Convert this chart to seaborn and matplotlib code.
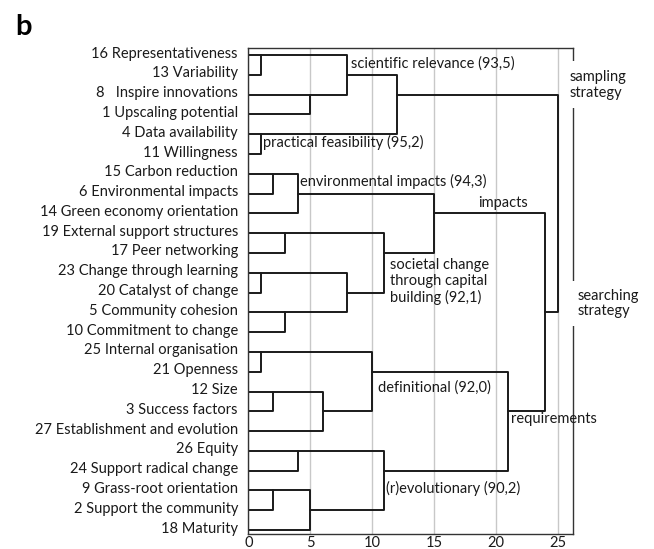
import numpy as np
import pandas as pd
import seaborn as sns
import matplotlib
matplotlib.use("Agg")
import matplotlib.pyplot as plt
from matplotlib.transforms import ScaledTranslation

# ---------------- data ----------------
leaf_labels = [
    "16 Representativeness", "13 Variability", "8   Inspire innovations",
    "1 Upscaling potential", "4 Data availability", "11 Willingness",
    "15 Carbon reduction", "6 Environmental impacts", "14 Green economy orientation",
    "19 External support structures", "17 Peer networking", "23 Change through learning",
    "20 Catalyst of change", "5 Community cohesion", "10 Commitment to change",
    "25 Internal organisation", "21 Openness", "12 Size", "3 Success factors",
    "27 Establishment and evolution", "26 Equity", "24 Support radical change",
    "9 Grass-root orientation", "2 Support the community", "18 Maturity",
]
# merges: cluster ids 0..24 are leaves, 25.. are merges in order
merge_left = [0, 2, 25, 4, 27, 6, 30, 9, 11, 13, 33, 32, 31,
              15, 17, 39, 38, 20, 22, 43, 42, 41, 37, 29]
merge_right = [1, 3, 26, 5, 28, 7, 8, 10, 12, 14, 34, 35, 36,
               16, 18, 19, 40, 21, 23, 24, 44, 45, 46, 47]
merge_height = [1, 5, 8, 1, 12, 2, 4, 3, 1, 3, 8, 11, 15,
                1, 2, 6, 10, 4, 2, 5, 11, 21, 24, 25]
x_ticks = [0, 5, 10, 15, 20, 25]

# ---------------- build link paths ----------------
n = len(leaf_labels)
row = list(range(n))
height = [0] * n
records = []
for k, (a, b, h) in enumerate(zip(merge_left, merge_right, merge_height)):
    ya, yb = row[a], row[b]
    pts = [(height[a], ya), (h, ya), (h, yb), (height[b], yb)]
    for order, (x, y) in enumerate(pts):
        records.append(dict(seg=k, order=order, x=x, y=y))
    row.append((ya + yb) // 2)
    height.append(h)
df = pd.DataFrame(records)

# ---------------- style ----------------
sns.set_style("white")
plt.rcParams["font.family"] = ["Lato", "DejaVu Sans"]
FS = 10.5
TXT = "#1a1a1a"

fig = plt.figure(figsize=(6.54, 5.49), dpi=100)
ax = fig.add_axes([0.3787, 0.0273, 0.8757 - 0.3787, 0.912 - 0.0273])

ax.grid(axis="x", color="#c8c8c8", lw=1.0, zorder=0)
ax.set_axisbelow(True)

sns.lineplot(data=df, x="x", y="y", units="seg", estimator=None, sort=False,
             color="#1a1a1a", lw=1.4, ax=ax, legend=False)

ax.set_xlim(-0.05, 26.2)
ax.set_ylim(24.2, -0.34)
ax.set_xticks(x_ticks)
ax.set_xticklabels([str(t) for t in x_ticks], fontsize=FS, color=TXT)
ax.set_yticks(range(n))
ax.set_yticklabels(leaf_labels, fontsize=FS, color=TXT)
ax.set_xlabel("")
ax.set_ylabel("")
ax.tick_params(axis="x", length=0, pad=1.5)
ax.tick_params(axis="y", length=0, pad=7)
off = ScaledTranslation(0, 3 / 100, fig.dpi_scale_trans)
for lab in ax.get_yticklabels():
    lab.set_transform(lab.get_transform() + off)

for sp in ax.spines.values():
    sp.set_visible(True)
    sp.set_color("#333333")
    sp.set_linewidth(1.0)

# ---------------- annotations ----------------
def note(x, y, s, **kw):
    ax.text(x, y, s, fontsize=FS, color=TXT, ha="left", va="center", **kw)

note(8.33, 0.42, "scientific relevance (93,5)")
note(1.22, 4.44, "practical feasibility (95,2)")
note(4.14, 6.39, "environmental impacts (94,3)")
note(18.57, 7.46, "impacts")
note(11.44, 11.45, "societal change\nthrough capital\nbuilding (92,1)", linespacing=1.2)
note(10.46, 16.8, "definitional (92,0)")
note(21.25, 18.4, "requirements")
note(11.1, 21.9, "(r)evolutionary (90,2)")
box = dict(facecolor="white", edgecolor="none", pad=6)
note(25.95, 1.5, "sampling\nstrategy", linespacing=1.2, bbox=box, zorder=5)
note(26.6, 12.56, "searching\nstrategy", linespacing=1.1, bbox=box, zorder=5)

fig.text(15 / 654, 1 - 35 / 549, "b", fontsize=21, fontweight="bold",
         color="#000000", va="baseline", ha="left")

fig.savefig("out.png", dpi=100)
